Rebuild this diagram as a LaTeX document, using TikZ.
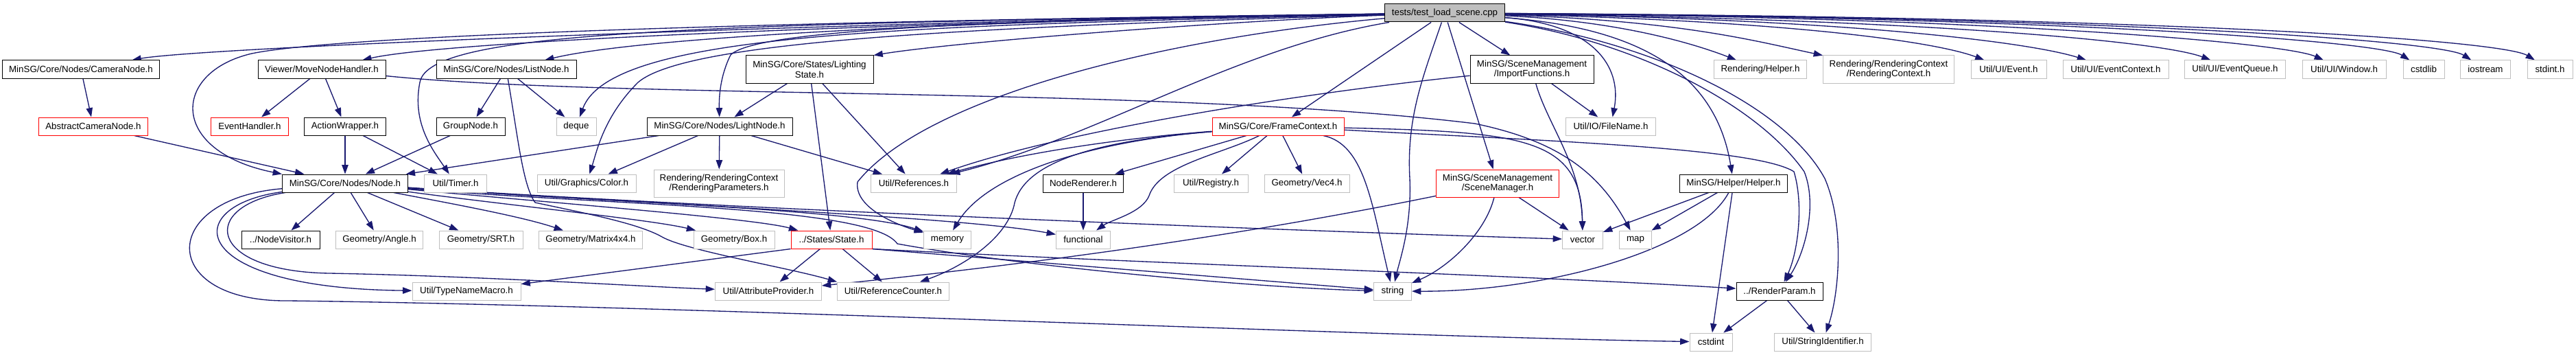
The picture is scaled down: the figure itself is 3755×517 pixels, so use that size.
\documentclass[tikz,border=0pt]{standalone}
\usepackage{fontspec}
\setmainfont{Liberation Sans}
\usepackage{tikz}
\usetikzlibrary{arrows.meta, backgrounds}
\definecolor{edgeblue}{RGB}{25,25,112}
\definecolor{extgray}{RGB}{191,191,191}
\definecolor{rootfill}{RGB}{191,191,191}
\def\px{0.75pt}

\begin{document}
\begin{tikzpicture}[x=\px, y=-\px,
    hdr/.style={draw=black, line width=0.75pt, fill=white, inner sep=0pt,
      minimum height=26*\px, align=center, font=\fontsize{10}{11}\selectfont},
    ext/.style={hdr, draw=extgray},
    trunc/.style={hdr, draw=red},
    dep/.style={draw=edgeblue, line width=1pt, -{Triangle[length=10pt,width=7pt]}}]
  \useasboundingbox (0,0) rectangle (3755,517);

  % the test file
  \node[hdr, fill=rootfill, minimum width=175*\px] (root) at (2106,19) {tests/test\_load\_scene.cpp};

  % first level
  \node[hdr, minimum width=229*\px] (cam) at (118,101) {MinSG/Core/Nodes/CameraNode.h};
  \node[hdr, minimum width=186*\px] (movenh) at (469,101) {Viewer/MoveNodeHandler.h};
  \node[hdr, minimum width=204*\px] (listn) at (738,101) {MinSG/Core/Nodes/ListNode.h};
  \node[hdr, minimum width=186*\px, minimum height=40*\px] (lstate) at (1180,101) {MinSG/Core/States/Lighting\\State.h};
  \node[hdr, minimum width=180*\px, minimum height=40*\px] (impf) at (2233,101) {MinSG/SceneManagement\\/ImportFunctions.h};
  \node[ext, minimum width=135*\px] (rhelp) at (2566,101) {Rendering/Helper.h};
  \node[ext, minimum width=191*\px, minimum height=40*\px] (rctx) at (2753,101) {Rendering/RenderingContext\\/RenderingContext.h};
  \node[ext, minimum width=110*\px] (uievent) at (2928,101) {Util/UI/Event.h};
  \node[ext, minimum width=154*\px] (uictx) at (3084,101) {Util/UI/EventContext.h};
  \node[ext, minimum width=147*\px] (uiqueue) at (3258,101) {Util/UI/EventQueue.h};
  \node[ext, minimum width=122*\px] (uiwin) at (3417,101) {Util/UI/Window.h};
  \node[ext, minimum width=60*\px] (cstdlib) at (3533,101) {cstdlib};
  \node[ext, minimum width=73*\px] (iostream) at (3623,101) {iostream};
  \node[ext, minimum width=66*\px] (stdinth) at (3717,101) {stdint.h};

  % second level
  \node[trunc, minimum width=159*\px] (acam) at (136,184) {AbstractCameraNode.h};
  \node[trunc, minimum width=113*\px] (evhandler) at (364,184) {EventHandler.h};
  \node[hdr, minimum width=119*\px] (actwrap) at (503,184) {ActionWrapper.h};
  \node[hdr, minimum width=100*\px] (groupn) at (686,184) {GroupNode.h};
  \node[ext, minimum width=58*\px] (deque) at (840,184) {deque};
  \node[hdr, minimum width=212*\px] (lightn) at (1049,184) {MinSG/Core/Nodes/LightNode.h};
  \node[trunc, minimum width=192*\px] (framectx) at (1863,184) {MinSG/Core/FrameContext.h};
  \node[ext, minimum width=131*\px] (fname) at (2348,184) {Util/IO/FileName.h};

  % third level
  \node[hdr, minimum width=183*\px] (noden) at (503,267) {MinSG/Core/Nodes/Node.h};
  \node[ext, minimum width=91*\px] (timer) at (664,267) {Util/Timer.h};
  \node[ext, minimum width=144*\px] (gcolor) at (855,267) {Util/Graphics/Color.h};
  \node[ext, minimum width=190*\px, minimum height=40*\px] (rparams) at (1048,267) {Rendering/RenderingContext\\/RenderingParameters.h};
  \node[ext, minimum width=125*\px] (refs) at (1332,267) {Util/References.h};
  \node[hdr, minimum width=117*\px] (nrender) at (1579,267) {NodeRenderer.h};
  \node[ext, minimum width=108*\px] (registry) at (1765,267) {Util/Registry.h};
  \node[ext, minimum width=124*\px] (vecfour) at (1905,267) {Geometry/Vec4.h};
  \node[trunc, minimum width=179*\px, minimum height=40*\px] (scenemgr) at (2183,267) {MinSG/SceneManagement\\/SceneManager.h};
  \node[hdr, minimum width=157*\px] (mhelper) at (2527,267) {MinSG/Helper/Helper.h};

  % fourth level
  \node[hdr, minimum width=114*\px] (visitor) at (409,349) {../NodeVisitor.h};
  \node[ext, minimum width=127*\px] (gangle) at (553,349) {Geometry/Angle.h};
  \node[ext, minimum width=122*\px] (srt) at (701,349) {Geometry/SRT.h};
  \node[ext, minimum width=151*\px] (matrix) at (861,349) {Geometry/Matrix4x4.h};
  \node[ext, minimum width=118*\px] (gbox) at (1070,349) {Geometry/Box.h};
  \node[trunc, minimum width=118*\px] (state) at (1212,349) {../States/State.h};
  \node[ext, minimum width=69*\px] (memory) at (1381,349) {memory};
  \node[ext, minimum width=79*\px] (functional) at (1579,349) {functional};
  \node[ext, minimum width=59*\px] (vector) at (2307,349) {vector};
  \node[ext, minimum width=47*\px] (map) at (2384,349) {map};

  % fifth and sixth level
  \node[ext, minimum width=158*\px] (typename) at (680,424) {Util/TypeNameMacro.h};
  \node[ext, minimum width=155*\px] (attrprov) at (1120,424) {Util/AttributeProvider.h};
  \node[ext, minimum width=163*\px] (refcount) at (1302,424) {Util/ReferenceCounter.h};
  \node[ext, minimum width=55*\px] (string) at (2030,424) {string};
  \node[hdr, minimum width=126*\px] (renderparam) at (2594,424) {../RenderParam.h};
  \node[ext, minimum width=62*\px] (cstdint) at (2494,498) {cstdint};
  \node[ext, minimum width=141*\px] (strid) at (2657,498) {Util/StringIdentifier.h};

  \begin{scope}[on background layer]
    \fill[white] (0,0) rectangle (3755,517);

    % test file, to the left
    \draw[dep] (root) .. controls (1300,30) and (300,68) .. (cam);
    \draw[dep] (root) .. controls (1200,30) and (500,50) .. (367,78) .. controls (250,105) and (245,220) .. (noden.north west);
    \draw[dep] (root) .. controls (1200,35) and (640,62) .. (movenh);
    \draw[dep] (root) .. controls (1000,35) and (625,45) .. (612,120) .. controls (600,180) and (632,220) .. (timer);
    \draw[dep] (root) .. controls (1500,28) and (950,50) .. (listn);
    \draw[dep] (root) .. controls (1300,38) and (890,48) .. (deque);
    \draw[dep] (root) .. controls (1800,30) and (1400,60) .. (lstate.north east);
    \draw[dep] (root) .. controls (1400,30) and (1100,45) .. (1065,80) .. controls (1050,110) and (1048,140) .. (lightn);
    \draw[dep] (root) .. controls (1400,40) and (1000,60) .. (930,120) .. controls (880,170) and (870,220) .. (gcolor);
    \draw[dep] (root) .. controls (1700,55) and (1350,140) .. (1250,265) .. controls (1245,300) and (1300,325) .. (memory);
    \draw[dep] (root) .. controls (1800,70) and (1600,200) .. (refs);
    \draw[dep] (root) -- (framectx);
    \draw[dep] (root) .. controls (2075,110) and (2050,170) .. (2055,260) .. controls (2058,330) and (2040,380) .. (string);
    \draw[dep] (root) -- (scenemgr);
    \draw[dep] (root) -- (impf);
    \draw[dep] (root) .. controls (2320,35) and (2365,95) .. (fname);
    \draw[dep] (root) .. controls (2380,40) and (2500,100) .. (mhelper);
    \draw[dep] (root) .. controls (2380,60) and (2560,150) .. (2630,250) .. controls (2650,300) and (2630,370) .. (renderparam);
    \draw[dep] (root) .. controls (2400,60) and (2600,150) .. (2660,260) .. controls (2690,330) and (2680,430) .. (strid);

    % test file, to the right
    \draw[dep] (root) .. controls (2350,30) and (2460,60) .. (rhelp);
    \draw[dep] (root) .. controls (2450,30) and (2560,60) .. (rctx);
    \draw[dep] (root) .. controls (2600,30) and (2820,60) .. (uievent);
    \draw[dep] (root) .. controls (2700,28) and (2960,62) .. (uictx);
    \draw[dep] (root) .. controls (2800,28) and (3150,60) .. (uiqueue);
    \draw[dep] (root) .. controls (2900,25) and (3330,62) .. (uiwin);
    \draw[dep] (root) .. controls (3000,25) and (3470,60) .. (cstdlib);
    \draw[dep] (root) .. controls (3100,25) and (3560,60) .. (iostream);
    \draw[dep] (root) .. controls (3200,25) and (3650,60) .. (stdinth);

    % camera and viewer
    \draw[dep] (cam) -- (acam);
    \draw[dep] (acam) -- (noden);
    \draw[dep] (movenh) -- (evhandler);
    \draw[dep] (movenh) -- (actwrap);
    \draw[dep] (movenh) .. controls (900,145) and (1700,125) .. (2150,180) .. controls (2270,205) and (2330,250) .. (map);
    \draw[dep] (actwrap) -- (noden);
    \draw[dep] (actwrap) -- (timer);

    % list node
    \draw[dep] (listn) -- (groupn);
    \draw[dep] (listn) -- (deque);
    \draw[dep] (listn) .. controls (755,200) and (762,270) .. (780,295) .. controls (850,310) and (930,325) .. (965,345) .. controls (1000,365) and (1150,390) .. (refcount.north west);
    \draw[dep] (groupn) -- (noden);

    % lighting
    \draw[dep] (lstate) -- (lightn);
    \draw[dep] (lstate) -- (state);
    \draw[dep] (lstate) -- (refs);
    \draw[dep] (lightn) -- (noden);
    \draw[dep] (lightn) -- (gcolor);
    \draw[dep] (lightn) -- (rparams);
    \draw[dep] (lightn) -- (refs);

    % frame context
    \draw[dep] (framectx) .. controls (1650,200) and (1500,220) .. (refs);
    \draw[dep] (framectx) .. controls (1600,205) and (1440,250) .. (memory);
    \draw[dep] (framectx) .. controls (1600,205) and (1490,235) .. (1478,300) .. controls (1465,350) and (1400,390) .. (refcount);
    \draw[dep] (framectx) -- (nrender);
    \draw[dep] (framectx) .. controls (1780,225) and (1690,240) .. (1675,285) .. controls (1665,310) and (1620,320) .. (functional);
    \draw[dep] (framectx) -- (registry);
    \draw[dep] (framectx) -- (vecfour);
    \draw[dep] (framectx) .. controls (1990,210) and (2000,300) .. (string);
    \draw[dep] (framectx) .. controls (2220,192) and (2305,200) .. (vector);
    \draw[dep] (framectx) .. controls (2250,205) and (2560,215) .. (2615,250) .. controls (2630,300) and (2620,370) .. (renderparam);

    % scene management
    \draw[dep] (impf) .. controls (1900,135) and (1550,190) .. (refs);
    \draw[dep] (impf) -- (fname);
    \draw[dep] (impf) .. controls (2255,180) and (2305,240) .. (vector);
    \draw[dep] (scenemgr) .. controls (1800,345) and (1500,385) .. (attrprov);
    \draw[dep] (scenemgr) .. controls (2165,340) and (2110,390) .. (string);
    \draw[dep] (scenemgr) -- (vector);

    % helper
    \draw[dep] (mhelper) -- (vector);
    \draw[dep] (mhelper) -- (map);
    \draw[dep] (mhelper) .. controls (2475,365) and (2250,425) .. (string);
    \draw[dep] (mhelper) -- (cstdint);

    % node
    \draw[dep] (noden) -- (visitor);
    \draw[dep] (noden) -- (gangle);
    \draw[dep] (noden) -- (srt);
    \draw[dep] (noden) .. controls (650,295) and (760,315) .. (matrix);
    \draw[dep] (noden) .. controls (750,300) and (950,320) .. (gbox);
    \draw[dep] (noden) .. controls (800,295) and (1100,318) .. (state);
    \draw[dep] (noden) .. controls (900,295) and (1250,305) .. (memory);
    \draw[dep] (noden) .. controls (900,295) and (1400,315) .. (functional);
    \draw[dep] (noden) .. controls (1000,300) and (1700,330) .. (vector);
    \draw[dep] (noden) .. controls (900,300) and (1270,300) .. (1308,355) .. controls (1500,390) and (1850,420) .. (string);
    \draw[dep] (noden) .. controls (260,300) and (270,420) .. (typename);
    \draw[dep] (noden) .. controls (290,300) and (300,395) .. (480,398) .. controls (700,402) and (950,418) .. (attrprov);
    \draw[dep] (noden) .. controls (230,290) and (230,440) .. (420,438) .. controls (1000,445) and (2000,490) .. (cstdint);

    % state
    \draw[dep] (state.south west) -- (typename);
    \draw[dep] (state) -- (attrprov);
    \draw[dep] (state) -- (refcount);
    \draw[dep] (state.south east) .. controls (1700,385) and (2200,400) .. (renderparam);
    \draw[dep] (state.south east) -- (string);

    % renderer and params
    \draw[dep] (nrender) -- (functional);
    \draw[dep] (renderparam) -- (cstdint);
    \draw[dep] (renderparam) -- (strid);
  \end{scope}
\end{tikzpicture}
\end{document}
